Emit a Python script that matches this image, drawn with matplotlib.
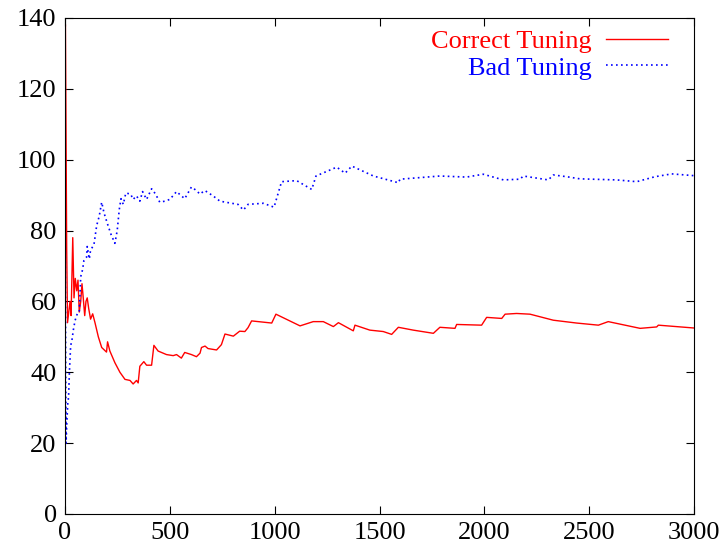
import matplotlib
matplotlib.use('Agg')
import matplotlib.pyplot as plt

# running average for the two tunings (rows of ten points)
correct_x = [2, 8, 12, 24, 29, 37, 43, 49, 56, 62,
             68, 75, 81, 87, 94, 100, 106, 113, 122, 132,
             143, 159, 175, 198, 203, 214, 238, 262, 286, 310,
             325, 341, 349, 357, 376, 389, 413, 424, 444, 484,
             516, 532, 555, 571, 603, 627, 644, 651, 668, 682,
             723, 746, 763, 803, 833, 858, 873, 890, 986, 1006,
             1121, 1184, 1232, 1280, 1304, 1375, 1383, 1454, 1518, 1558,
             1590, 1661, 1757, 1788, 1860, 1868, 1987, 2011, 2083, 2099,
             2154, 2218, 2329, 2440, 2544, 2591, 2743, 2822, 2830, 3000]
correct_y = [138, 75, 54, 60, 56, 78, 61, 66.5, 63, 66,
             57, 60, 65, 61, 56, 60, 61, 58, 55, 56.5,
             54, 50, 47, 45.7, 48.6, 46, 42.7, 40, 38, 37.7,
             36.7, 37.7, 37, 41.7, 43, 42, 42, 47.6, 46, 45,
             44.7, 45, 44, 45.6, 45, 44.4, 45.4, 47, 47.4, 46.7,
             46.3, 47.8, 50.8, 50.2, 51.6, 51.5, 52.6, 54.5, 53.9, 56.4,
             53.1, 54.3, 54.3, 52.9, 54, 51.7, 53.3, 51.9, 51.5, 50.7,
             52.7, 51.9, 51, 52.7, 52.4, 53.5, 53.3, 55.5, 55.2, 56.4,
             56.6, 56.4, 54.7, 53.9, 53.3, 54.3, 52.4, 52.8, 53.3, 52.5]

bad_x = [0, 5, 8, 13, 17, 21, 27, 32, 40, 48,
         59, 68, 75, 84, 90, 103, 106, 116, 122, 138,
         151, 163, 175, 186, 202, 219, 238, 249, 259, 267,
         278, 290, 313, 325, 341, 357, 370, 389, 413, 432,
         452, 476, 500, 532, 555, 571, 603, 627, 643, 667,
         706, 739, 786, 825, 851, 873, 946, 997, 1033, 1105,
         1177, 1197, 1296, 1336, 1368, 1471, 1590, 1598, 1788, 1915,
         1995, 2091, 2170, 2186, 2305, 2329, 2393, 2456, 2631, 2727,
         2814, 2894, 3000]
bad_y = [91, 20, 25, 31, 33, 40, 47.6, 48.6, 52, 54.6,
         56.6, 57, 67, 69, 71.5, 72.5, 75.5, 72, 74.5, 76,
         81.4, 84, 88, 85, 82, 79, 76.4, 80, 86, 89,
         87.4, 90.6, 90.3, 88.8, 89.8, 88.3, 91, 88.8, 91.8, 90.3,
         88, 88.3, 88.8, 91, 89.8, 89, 92.3, 91.3, 90.3, 91.3,
         89.8, 88.3, 87.8, 87.4, 85.8, 87.4, 87.7, 86.6, 93.8, 94.1,
         91.6, 95.4, 97.9, 96.2, 98.2, 95.4, 93.5, 94.5, 95.4, 95.1,
         95.9, 94.3, 94.5, 95.4, 94.3, 95.7, 95.2, 94.6, 94.3, 93.8,
         95.2, 96, 95.5]

plt.rcParams['font.family'] = ['Liberation Serif', 'DejaVu Serif']
plt.rcParams['font.size'] = 19

fig = plt.figure(figsize=(7.22, 5.52), dpi=100)
ax = fig.add_axes([65 / 722, 38 / 552, 629 / 722, 496 / 552])

ax.plot(correct_x, correct_y, color='#ff0000', lw=1.0, label='Correct Tuning')
ax.plot(bad_x, bad_y, color='#0000ff', lw=1.2, linestyle=(0, (1, 2)),
        label='Bad Tuning')

ax.set_xlim(0, 3000)
ax.set_ylim(0, 140)
ax.set_xticks(range(0, 3001, 500))
ax.set_yticks(range(0, 141, 20))
ax.tick_params(direction='in', length=5.5, width=0.8, top=True, right=True, pad=6)
for s in ax.spines.values():
    s.set_linewidth(0.8)

# key sits inside the top right corner, labels left of the samples
leg = ax.legend(loc='upper right', frameon=False, markerfirst=False,
                handlelength=2.35, handletextpad=0.55, labelspacing=0.1,
                borderpad=0, borderaxespad=0,
                bbox_to_anchor=(668 / 722, 522 / 552),
                bbox_transform=fig.transFigure, fontsize=19)
for txt, line in zip(leg.get_texts(), leg.get_lines()):
    txt.set_color(line.get_color())

fig.savefig('out.png', dpi=100)
plt.close(fig)
